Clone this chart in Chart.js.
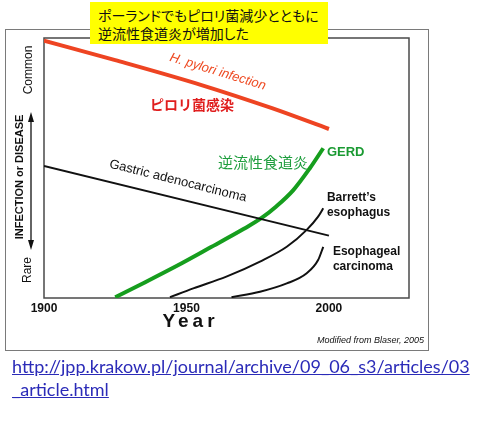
<!DOCTYPE html>
<html>
<head>
<meta charset="utf-8">
<script src="https://cdn.jsdelivr.net/npm/chart.js@4"></script>
<style>
  html, body { margin: 0; padding: 0; background: #fff; }
  #wrap { position: relative; width: 480px; height: 429px; overflow: hidden; }
  #frame { position: absolute; left: 5px; top: 29px; width: 422px; height: 320px; border: 1.5px solid #7a7a7a; }
  #chart { position: absolute; left: 0; top: 0; }
  #note {
    position: absolute; left: 90px; top: 2px; width: 230px; height: 38px;
    padding: 4px 0 0 8px; background: #ffff00; color: #111;
    font: 14px "Noto Sans CJK JP"; line-height: 18px; font-feature-settings: "palt";
  }
  #src {
    position: absolute; left: 12px; top: 355px; font: 18px Lato; line-height: 23px;
    color: #2b2bb8; text-decoration: underline;
  }
</style>
</head>
<body>
<div id="wrap">
  <div id="frame"></div>
  <canvas id="chart" width="480" height="429"></canvas>
  <div id="note">ポーランドでもピロリ菌減少とともに<br>逆流性食道炎が増加した</div>
  <div id="src">http://jpp.krakow.pl/journal/archive/09_06_s3/articles/03<br>_article.html</div>
</div>
<script>
// ticks of the year axis
const xTicks = [1900, 1950, 2000];

// H. pylori infection (red)
const pyloriYears = [1900, 1925, 1955, 1980, 2000];
const pyloriLevel = [99, 91.5, 82, 73, 65];

// gastric adenocarcinoma (black, straight)
const gastricYears = [1900, 2000];
const gastricLevel = [50.8, 24];

// GERD (green)
const gerdYears = [1925, 1935, 1946.5, 1958, 1970, 1976.5, 1981.5, 1987.5, 1993.3, 1998];
const gerdLevel = [0.3, 5.8, 12.3, 19.2, 26.5, 30.9, 35.2, 41.5, 49.9, 57.6];

// Barrett's esophagus
const barrettYears = [1944.2, 1952.4, 1964, 1975.8, 1985.2, 1992.2, 1996.2, 1998];
const barrettLevel = [0.3, 3.7, 8.2, 14, 19.7, 26.2, 31.3, 34.5];

// esophageal carcinoma
const escYears = [1965.8, 1975.8, 1985.2, 1992.2, 1996.2, 1998];
const escLevel = [0.3, 2.4, 5.6, 9.5, 14.6, 19.7];

const pts = (xs, ys) => xs.map((x, i) => ({ x: x, y: ys[i] }));

const line = (xs, ys, color, width) => ({
  data: pts(xs, ys),
  borderColor: color,
  borderWidth: width,
  pointRadius: 0,
  fill: false,
  cubicInterpolationMode: 'monotone',
  borderCapStyle: 'butt'
});

// labels placed in data coordinates (year, level)
const notes = [
  { text: 'H. pylori infection', x: 1961, y: 87, rot: 17, font: 'italic 13px "Liberation Sans"', color: '#ee4a22', align: 'center' },
  { text: 'ピロリ菌感染', x: 1937.2, y: 74.2, rot: 0, font: 'bold 14px "Noto Sans CJK JP"', color: '#e01e1e', align: 'left' },
  { text: '逆流性食道炎', x: 1961.1, y: 52.3, rot: 0, font: '15px "Noto Sans CJK JP"', color: '#1f9e3e', align: 'left' },
  { text: 'GERD', x: 1999.3, y: 55.8, rot: 0, font: 'bold 13px "Liberation Sans"', color: '#1a9a32', align: 'left' },
  { text: 'Gastric adenocarcinoma', x: 1947, y: 45, rot: 14, font: '13px "Liberation Sans"', color: '#111', align: 'center' },
  { text: 'Barrett\u2019s', x: 1999.3, y: 38.5, rot: 0, font: 'bold 12px "Liberation Sans"', color: '#111', align: 'left' },
  { text: 'esophagus', x: 1999.3, y: 32.8, rot: 0, font: 'bold 12px "Liberation Sans"', color: '#111', align: 'left' },
  { text: 'Esophageal', x: 2001.4, y: 17.8, rot: 0, font: 'bold 12px "Liberation Sans"', color: '#111', align: 'left' },
  { text: 'carcinoma', x: 2001.4, y: 12, rot: 0, font: 'bold 12px "Liberation Sans"', color: '#111', align: 'left' }
];

const decor = {
  id: 'decor',
  beforeDatasetsDraw(chart) {
    const { ctx, chartArea: a } = chart;
    ctx.save();
    ctx.strokeStyle = '#4a4a4a';
    ctx.lineWidth = 1.5;
    ctx.strokeRect(a.left, a.top, a.right - a.left, a.bottom - a.top);
    ctx.restore();
  },
  afterDatasetsDraw(chart) {
    const { ctx, chartArea: a, scales } = chart;
    ctx.save();
    ctx.textBaseline = 'middle';
    notes.forEach(n => {
      ctx.save();
      ctx.translate(scales.x.getPixelForValue(n.x), scales.y.getPixelForValue(n.y));
      ctx.rotate(n.rot * Math.PI / 180);
      ctx.font = n.font;
      ctx.fillStyle = n.color;
      ctx.textAlign = n.align;
      ctx.fillText(n.text, 0, 0);
      ctx.restore();
    });

    // left side: Common / INFECTION or DISEASE / Rare, with arrow
    const side = (text, x, y, font) => {
      ctx.save();
      ctx.translate(x, y);
      ctx.rotate(-Math.PI / 2);
      ctx.font = font;
      ctx.fillStyle = '#111';
      ctx.textAlign = 'center';
      ctx.fillText(text, 0, 0);
      ctx.restore();
    };
    side('Common', a.left - 15, a.top + 32, '12px "Liberation Sans"');
    side('INFECTION or DISEASE', a.left - 24, a.top + 139, 'bold 11px "Liberation Sans"');
    side('Rare', a.left - 16, a.top + 232, '12px "Liberation Sans"');

    const ax = a.left - 13, y1 = a.top + 74, y2 = a.top + 212;
    ctx.strokeStyle = '#111';
    ctx.fillStyle = '#111';
    ctx.lineWidth = 1.3;
    ctx.beginPath();
    ctx.moveTo(ax, y1 + 6);
    ctx.lineTo(ax, y2 - 6);
    ctx.stroke();
    ctx.beginPath();
    ctx.moveTo(ax, y1); ctx.lineTo(ax - 3, y1 + 10); ctx.lineTo(ax + 3, y1 + 10); ctx.closePath();
    ctx.moveTo(ax, y2); ctx.lineTo(ax - 3, y2 - 10); ctx.lineTo(ax + 3, y2 - 10); ctx.closePath();
    ctx.fill();

    // axis title and source note
    ctx.font = 'bold 19px "Liberation Sans"';
    ctx.letterSpacing = '4px';
    ctx.textAlign = 'center';
    ctx.textBaseline = 'alphabetic';
    ctx.fillText('Year', scales.x.getPixelForValue(1950) + 4, a.bottom + 29);
    ctx.letterSpacing = '0px';
    ctx.font = 'italic 9px "Liberation Sans"';
    ctx.textAlign = 'right';
    ctx.fillText('Modified from Blaser, 2005', 424, a.bottom + 45);
    ctx.restore();
  }
};

new Chart(document.getElementById('chart'), {
  type: 'line',
  data: {
    datasets: [
      line(pyloriYears, pyloriLevel, '#ee4422', 4),
      line(gastricYears, gastricLevel, '#111', 2),
      line(gerdYears, gerdLevel, '#169e1e', 4),
      line(barrettYears, barrettLevel, '#111', 2),
      line(escYears, escLevel, '#111', 2)
    ]
  },
  options: {
    responsive: false,
    animation: false,
    layout: { padding: { left: 44, top: 38, right: 71, bottom: 111 } },
    plugins: { legend: { display: false }, tooltip: { enabled: false } },
    scales: {
      x: {
        type: 'linear',
        min: 1900,
        max: 2028.1,
        afterBuildTicks: s => { s.ticks = xTicks.map(v => ({ value: v })); },
        afterFit: s => { s.height = 20; },
        grid: { display: false, drawTicks: false },
        border: { display: false },
        ticks: {
          autoSkip: false,
          maxRotation: 0,
          padding: 3,
          color: '#111',
          font: { family: 'Liberation Sans', weight: 'bold', size: 12 },
          callback: v => String(v)
        }
      },
      y: { display: false, min: 0, max: 100 }
    }
  },
  plugins: [decor]
});
</script>
</body>
</html>
